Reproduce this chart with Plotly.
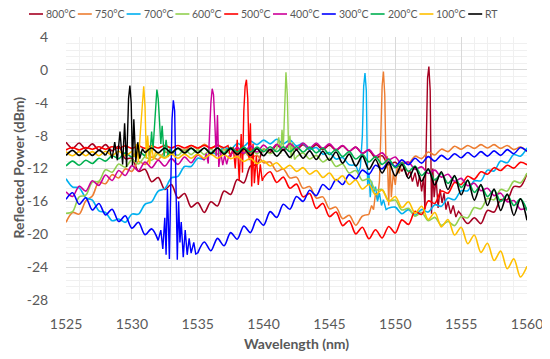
import plotly.graph_objects as go

# ---------------- data ----------------
WL = [1525.0, 1525.5, 1526.0, 1526.5, 1527.0, 1527.5, 1528.0, 1528.5, 1529.0, 1529.5,
      1530.0, 1530.5, 1531.0, 1531.5, 1532.0, 1532.5, 1533.0, 1533.5, 1534.0, 1534.5,
      1535.0, 1535.5, 1536.0, 1536.5, 1537.0, 1537.5, 1538.0, 1538.5, 1539.0, 1539.5,
      1540.0, 1540.5, 1541.0, 1541.5, 1542.0, 1542.5, 1543.0, 1543.5, 1544.0, 1544.5,
      1545.0, 1545.5, 1546.0, 1546.5, 1547.0, 1547.5, 1548.0, 1548.5, 1549.0, 1549.5,
      1550.0, 1550.5, 1551.0, 1551.5, 1552.0, 1552.5, 1553.0, 1553.5, 1554.0, 1554.5,
      1555.0, 1555.5, 1556.0, 1556.5, 1557.0, 1557.5, 1558.0, 1558.5, 1559.0, 1559.5,
      1560.0]

N = None

C800 = [-8.8, -9.55, -8.9, -9.65, -9.0, -9.75, -9.1, -9.85, -9.3, -10.8,
        -10.75, -12.35, -12.1, -13.6, -13.1, -14.55, -13.95, -15.6, -15.05, -16.7,
        -16.15, -17.35, -16.05, -16.55, -14.75, -15.15, -13.35, -13.75, -11.7, -11.5,
        -9.65, -10.05, -9.15, -9.8, -9.1, -9.7, -9.1, -9.7, -9.1, -9.7,
        -9.15, -9.8, -9.25, -9.9, -9.4, -10.15, -9.8, -10.7, -10.45, -11.55,
        -11.25, -12.35, N, N, N, N, N, N, N, N,
        -17.6, -18.7, -18.0, -18.7, -17.1, -17.3, -15.8, -15.8, -14.2, -14.2, -12.6]
C800_PX = [1550.5, 1550.7, 1550.9, 1551.1, 1551.3, 1551.5, 1551.7, 1551.85, 1552.0, 1552.15,
           1552.25, 1552.35, 1552.45, 1552.55, 1552.65, 1552.75, 1552.85, 1552.95, 1553.1, 1553.25,
           1553.4, 1553.55, 1553.7, 1553.85, 1554.0, 1554.2, 1554.4, 1554.6, 1554.8, 1555.0]
C800_PY = [-12.35, -11.8, -13.0, -12.2, -13.6, -12.5, -14.2, -12.8, -14.8, -13.0,
           -17.0, -8.0, -1.0, 0.4, -2.5, -17.5, -12.0, -15.5, -13.2, -16.8,
           -14.5, -16.2, -15.0, -17.0, -16.0, -17.5, -16.5, -17.9, -17.2, -17.6]

C750 = [-18.55, -17.35, -17.55, -15.95, -15.35, -13.65, -13.85, -12.75, -13.15, -12.05,
        -12.35, -11.15, -11.5, -10.6, -10.9, -10.0, -10.3, -9.5, -9.85, -9.2,
        -9.6, -9.05, -9.55, -9.1, -9.75, -9.45, -10.2, -9.85, -10.7, -10.4,
        -11.3, -11.2, -12.35, -12.05, -13.15, -13.05, -14.4, -14.2, -15.6, -15.45,
        -16.9, -16.7, -18.1, -17.7, -18.9, -17.8, -17.6, N, N, N,
        N, -11.2, -11.4, -10.5, -10.8, -10.0, -10.35, -9.65, -9.95, -9.3,
        -9.65, -9.2, -9.55, -9.1, -9.5, -9.1, -9.55, -9.2, -9.7, -9.4, -9.95]
C750_PX = [1548.0, 1548.2, 1548.35, 1548.5, 1548.65, 1548.8, 1548.9, 1549.0, 1549.1, 1549.2,
           1549.3, 1549.4, 1549.5, 1549.6, 1549.7, 1549.85, 1550.0, 1550.15, 1550.3, 1550.5]
C750_PY = [-17.6, -16.5, -17.0, -15.0, -15.8, -13.5, -8.0, -2.0, -0.2, -3.0,
           -12.0, -10.5, -16.5, -11.0, -15.5, -12.5, -14.0, -11.8, -12.6, -11.2]

C700 = [-13.25, -14.25, -14.35, -15.55, -15.85, -17.15, -17.35, -18.35, -18.15, -18.55,
        -17.55, -17.55, -16.35, -16.05, -14.75, -14.45, -13.15, -12.95, -11.75, -11.75,
        -10.75, -10.85, -10.05, -10.25, -9.45, -9.7, -8.95, -9.3, -8.65, -9.1,
        -8.55, -9.0, -8.45, -9.0, -8.55, -9.25, -8.95, -9.7, -9.45, -10.25,
        -10.05, -10.85, -10.65, -11.55, -11.55, N, N, N, N, -16.8,
        -16.7, -17.5, -17.0, -17.7, -17.0, -17.3, -16.4, -16.6, -15.6, -15.8,
        -14.7, -14.7, -13.5, -13.5, -12.2, -12.3, -11.1, -11.3, -10.3, -10.5, -9.5]
C700_PX = [1547.0, 1547.2, 1547.35, 1547.5, 1547.6, 1547.7, 1547.8, 1547.9, 1548.0, 1548.1,
           1548.2, 1548.35, 1548.5, 1548.65, 1548.8, 1548.95, 1549.1, 1549.3, 1549.5]
C700_PY = [-11.55, -12.5, -11.8, -8.0, -2.0, -0.4, -2.5, -14.0, -12.5, -15.5,
           -13.5, -15.0, -14.2, -16.0, -15.0, -16.5, -15.8, -17.0, -16.8]

C600 = [-17.45, -17.25, -15.45, -15.25, -13.65, -13.55, -12.15, -12.45, -11.45, -11.85,
        -10.95, -11.45, -10.6, -11.0, -10.2, -10.65, -9.9, -10.4, -9.7, -10.3,
        -9.7, -10.3, -9.65, -10.25, -9.65, -10.25, -9.65, -10.25, -9.6, -10.2,
        -9.6, -10.2, -9.6, N, N, -10.6, -10.1, -10.85, -10.4, -11.2,
        -10.75, -11.75, -11.45, -12.55, -12.25, -13.45, -13.25, -14.6, -14.55, -15.9,
        -15.85, -17.05, -16.85, -17.8, -17.35, -18.35, -17.95, -18.9, -18.45, -18.95,
        -17.85, -18.0, -16.75, -16.9, -15.65, -15.8, -14.55, -14.75, -13.55, -13.75, -12.55]
C600_PX = [1541.0, 1541.15, 1541.3, 1541.4, 1541.5, 1541.6, 1541.7, 1541.8, 1541.9, 1542.0,
           1542.1, 1542.2, 1542.35, 1542.5]
C600_PY = [-9.6, -8.2, -10.2, -7.3, -9.5, -4.0, -0.3, -3.0, -9.8, -8.0,
           -10.8, -8.8, -10.9, -10.6]

C500 = [-9.75, -9.45, -9.75, -9.45, -9.65, -9.35, -9.65, -9.35, -9.55, -9.25,
        -9.55, -9.25, -9.55, -9.25, -9.5, -9.2, -9.5, -9.2, -9.5, -9.2,
        -9.5, -9.2, -9.5, -9.2, -9.5, N, N, N, N, N,
        -13.1, -12.4, -13.7, -13.05, -14.4, -13.9, -15.45, -15.05, -16.85, -16.25,
        -17.85, -17.3, -18.95, -18.35, -19.95, -19.15, -20.55, -19.45, -20.45, -19.05,
        -19.85, -18.25, -18.8, -17.2, -17.6, -15.95, -16.25, -14.75, -15.0, -13.7,
        -13.95, -12.95, -13.3, -12.4, -12.7, -11.9, -12.25, -11.6, -11.95, -11.25, -11.55]
C500_PX = [1537.0, 1537.3, 1537.5, 1537.7, 1537.85, 1538.0, 1538.15, 1538.3, 1538.4, 1538.5,
           1538.6, 1538.7, 1538.8, 1538.9, 1539.0, 1539.1, 1539.2, 1539.3, 1539.45, 1539.6,
           1539.75, 1539.9, 1540.0]
C500_PY = [-9.5, -9.2, -10.6, -9.4, -12.0, -8.5, -13.5, -7.8, -12.5, -5.0,
           -2.0, -1.2, -3.5, -11.0, -6.5, -14.2, -9.0, -13.8, -10.5, -14.0,
           -11.5, -13.5, -13.1]

C400 = [-14.85, -15.4, -14.15, -14.75, -13.5, -14.05, -12.8, -13.45, -12.25, -12.85,
        -11.65, -12.3, -11.2, -11.9, -11.0, -11.7, -10.8, -11.5, -10.6, -11.3,
        -10.35, -11.0, N, N, N, -10.4, -9.45, -10.15, -9.25, -10.0,
        -9.15, -9.8, -9.05, -9.7, -8.95, -9.6, -8.9, -9.5, -8.9, -9.55,
        -9.0, -9.7, -9.2, -9.9, -9.4, -10.15, -9.7, -10.5, -10.1, -10.95,
        -10.6, -11.5, -11.2, -12.1, -11.8, -12.6, -12.2, -13.05, -12.7, -13.55,
        -13.2, -14.1, -13.8, -14.7, -14.4, -15.3, -15.0, -16.05, -15.9, -16.95, -16.8]
C400_PX = [1535.5, 1535.65, 1535.8, 1535.9, 1536.0, 1536.1, 1536.2, 1536.3, 1536.4, 1536.5,
           1536.6, 1536.75, 1536.9, 1537.05, 1537.2, 1537.35, 1537.5]
C400_PY = [-11.0, -10.2, -11.4, -7.0, -4.0, -2.3, -3.0, -6.5, -10.5, -5.5,
           -11.8, -10.0, -11.6, -10.4, -11.5, -10.5, -10.4]

C300 = [-15.75, -14.95, -16.35, -15.55, -17.05, -16.25, -17.65, -16.95, -18.45, -17.75,
        -19.25, -18.55, -20.05, -19.35, -20.75, N, N, N, N, N,
        -22.3, -20.95, -22.0, -20.5, -21.4, -19.8, -20.6, -19.0, -19.8, -18.15,
        -18.9, -17.25, -17.95, -16.35, -16.95, -15.4, -16.0, -14.65, -15.3, -13.95,
        -14.55, -13.35, -13.95, -12.75, -13.3, -12.2, -12.7, -11.6, -12.05, -11.2,
        -11.75, -10.95, -11.55, -10.75, -11.35, -10.55, -11.1, -10.4, -10.9, -10.2,
        -10.7, -10.05, -10.6, -9.95, -10.5, -9.85, -10.4, -9.7, -10.2, -9.45, -9.9]
C300_PX = [1532.0, 1532.2, 1532.35, 1532.5, 1532.6, 1532.7, 1532.85, 1532.95, 1533.05, 1533.15,
           1533.25, 1533.35, 1533.45, 1533.55, 1533.65, 1533.75, 1533.9, 1534.05, 1534.2, 1534.35,
           1534.5, 1534.7, 1534.85, 1535.0]
C300_PY = [-20.75, -19.5, -21.8, -18.0, -22.5, -14.5, -23.0, -12.0, -6.0, -3.7,
           -5.0, -14.0, -23.1, -16.0, -21.0, -18.5, -22.8, -19.5, -22.5, -20.5,
           -22.3, -21.0, -22.4, -22.3]

C200 = [-11.7, -11.1, -11.6, -11.0, -11.4, -10.75, -11.1, -10.45, -10.8, -10.1,
        -10.6, -9.95, -10.5, N, N, N, -10.2, -9.6, -10.15, -9.55,
        -10.1, -9.5, -10.1, -9.5, -10.05, -9.45, -10.0, -9.4, -10.0, -9.4,
        -9.95, -9.35, -9.95, -9.35, -9.95, -9.35, -10.0, -9.4, -10.1, -9.5,
        -10.3, -9.7, -10.55, -9.95, -10.85, -10.3, -11.2, -10.55, -11.5, -10.85,
        -11.9, -11.3, -12.35, -11.7, -12.85, -12.15, -13.4, -12.6, -13.8, -13.0,
        -14.3, -13.5, -14.9, -14.1, -15.4, -14.6, -16.0, -15.2, -16.5, -15.7, -17.1]
C200_PX = [1531.0, 1531.2, 1531.35, 1531.5, 1531.6, 1531.75, 1531.9, 1532.0, 1532.1, 1532.2,
           1532.3, 1532.45, 1532.6, 1532.75, 1532.9, 1533.0]
C200_PY = [-10.5, -9.2, -10.8, -7.5, -9.8, -5.5, -2.4, -3.5, -6.0, -9.0,
           -6.8, -10.5, -8.5, -10.6, -9.6, -10.2]

C100 = [-9.95, -10.45, -9.95, -10.45, -9.95, -10.45, -9.9, -10.4, -9.9, -10.4,
        -9.9, N, N, N, -10.25, -10.75, -10.25, -10.75, -10.25, -10.75,
        -10.25, -10.75, -10.25, -10.75, -10.3, -10.8, -10.55, -11.15, -10.75, -11.4,
        -11.05, -11.7, -11.3, -12.05, -11.6, -12.35, -11.9, -12.7, -12.25, -13.1,
        -12.55, -13.45, -12.9, -13.95, -13.4, -14.5, -13.95, -15.2, -14.6, -16.0,
        -15.4, -16.75, -16.05, -17.45, -16.6, -18.2, -17.35, -19.1, -18.2, -20.1,
        -19.15, -21.15, -20.1, -22.2, -21.1, -23.2, -22.05, -24.2, -23.0, -25.2, -23.9]
C100_PX = [1530.0, 1530.2, 1530.35, 1530.5, 1530.65, 1530.8, 1530.9, 1531.0, 1531.1, 1531.2,
           1531.35, 1531.5, 1531.65, 1531.8, 1532.0]
C100_PY = [-9.9, -10.6, -9.0, -11.2, -7.5, -3.5, -2.0, -4.5, -10.8, -8.0,
           -11.5, -9.2, -10.9, -10.0, -10.25]

CRT = [-10.4, -9.8, -10.4, -9.8, -10.4, -9.8, -10.4, N, N, N,
       N, N, -10.1, -9.5, -10.1, -9.5, -10.1, -9.5, -10.1, -9.5,
       -10.1, -9.5, -10.2, -9.5, -10.25, -9.55, -10.3, -9.6, -10.4, -9.6,
       -10.45, -9.65, -10.5, -9.7, -10.65, -9.75, -10.75, -9.85, -10.9, -9.9,
       -11.0, -10.0, -11.35, -10.25, -11.7, -10.5, -12.1, -10.9, -12.55, -11.25,
       -12.9, -11.5, -13.2, -11.8, -13.55, -12.05, -14.0, -12.4, -14.55, -12.85,
       -15.2, -13.4, -15.85, -13.95, -16.5, -14.5, -17.1, -15.1, -17.7, -15.7, -18.3]
CRT_PX = [1528.0, 1528.3, 1528.5, 1528.7, 1528.9, 1529.1, 1529.3, 1529.45, 1529.6, 1529.75,
          1529.85, 1529.95, 1530.05, 1530.15, 1530.3, 1530.45, 1530.6, 1530.8, 1531.0]
CRT_PY = [-10.4, -9.6, -10.8, -8.8, -11.0, -7.5, -11.5, -6.5, -11.8, -3.5,
          -1.9, -4.0, -11.6, -6.0, -11.2, -8.8, -10.8, -9.6, -10.1]

NAMES = ["800°C", "750°C", "700°C", "600°C", "500°C", "400°C", "300°C", "200°C", "100°C", "RT"]
COLORS = ["#A50021", "#ED7D31", "#00B0F0", "#92D050", "#FF0000",
          "#CC0099", "#0000FF", "#00B050", "#FFC000", "#000000"]
MAIN = [C800, C750, C700, C600, C500, C400, C300, C200, C100, CRT]
PEAK_X = [C800_PX, C750_PX, C700_PX, C600_PX, C500_PX, C400_PX, C300_PX, C200_PX, C100_PX, CRT_PX]
PEAK_Y = [C800_PY, C750_PY, C700_PY, C600_PY, C500_PY, C400_PY, C300_PY, C200_PY, C100_PY, CRT_PY]

X_TICKS = [1525, 1530, 1535, 1540, 1545, 1550, 1555, 1560]
Y_TICKS = [4, 0, -4, -8, -12, -16, -20, -24, -28]

# ---------------- figure ----------------
FONT = "Lato"
GREY = "#595959"
BODY = 8                      # default page margin of the html body
W, H = 550 - BODY, 359 - BODY
PL, PR, PT, PB = 66, 527, 37, 300   # plot area on the screen
ML, MR, MT, MB = PL - BODY, 550 - PR, PT - BODY, 359 - PB
PW = PR - PL
PH = PB - PT


def sx(p):
    return (p - PL) / PW


def sy(p):
    return (PB - p) / PH


fig = go.Figure()
for name, col, ys, pxs, pys in zip(NAMES, COLORS, MAIN, PEAK_X, PEAK_Y):
    fig.add_trace(go.Scatter(x=WL, y=ys, mode="lines", name=name, legendgroup=name,
                             line=dict(color=col, width=1.6, shape="spline", smoothing=0.9),
                             connectgaps=False, showlegend=False, hoverinfo="skip"))
    fig.add_trace(go.Scatter(x=pxs, y=pys, mode="lines", name=name, legendgroup=name,
                             line=dict(color=col, width=1.4),
                             showlegend=False, hoverinfo="skip"))

# manual legend in a single row above the plot
shapes = []
annotations = []
for i, (name, col) in enumerate(zip(NAMES, COLORS)):
    x0 = 29 + 48.8 * i
    shapes.append(dict(type="line", xref="paper", yref="paper",
                       x0=sx(x0), x1=sx(x0 + 14), y0=sy(14), y1=sy(14),
                       line=dict(color=col, width=1.6)))
    annotations.append(dict(xref="paper", yref="paper", x=sx(x0 + 15), y=sy(14),
                            xanchor="left", yanchor="middle", showarrow=False, text=name,
                            font=dict(family=FONT, size=10.5, color=GREY)))

annotations.append(dict(xref="paper", yref="paper", x=sx(17.5), y=sy(168),
                        xanchor="center", yanchor="middle", showarrow=False,
                        text="Reflected Power (dBm)", textangle=-90,
                        font=dict(family=FONT, size=14, color=GREY, weight="bold")))
annotations.append(dict(xref="paper", yref="paper", x=sx(296.5), y=sy(343),
                        xanchor="center", yanchor="middle", showarrow=False,
                        text="Wavelength (nm)",
                        font=dict(family=FONT, size=14, color=GREY, weight="bold")))

fig.update_layout(
    width=W, height=H,
    margin=dict(l=ML, r=MR, t=MT, b=MB),
    paper_bgcolor="white", plot_bgcolor="white",
    font=dict(family=FONT, color=GREY),
    showlegend=False,
    shapes=shapes, annotations=annotations,
    xaxis=dict(range=[1525, 1560], tickmode="array", tickvals=X_TICKS,
               ticktext=[str(v) for v in X_TICKS],
               showgrid=True, gridcolor="#D9D9D9", gridwidth=1,
               minor=dict(dtick=1, tick0=1525, showgrid=True, gridcolor="#F0F0F0", gridwidth=1),
               zeroline=False, showline=False,
               ticks="outside", ticklen=11, tickcolor="rgba(0,0,0,0)",
               tickfont=dict(family=FONT, size=14, color=GREY),
               automargin=False),
    yaxis=dict(range=[-28, 4], tickmode="array", tickvals=Y_TICKS,
               ticktext=[str(v) for v in Y_TICKS],
               showgrid=True, gridcolor="#D9D9D9", gridwidth=1,
               minor=dict(dtick=0.8, tick0=-28, showgrid=True, gridcolor="#F0F0F0", gridwidth=1),
               zeroline=False, showline=False,
               ticks="outside", ticklen=14, tickcolor="rgba(0,0,0,0)",
               tickfont=dict(family=FONT, size=14, color=GREY),
               automargin=False),
)

fig.write_html("out.html")
